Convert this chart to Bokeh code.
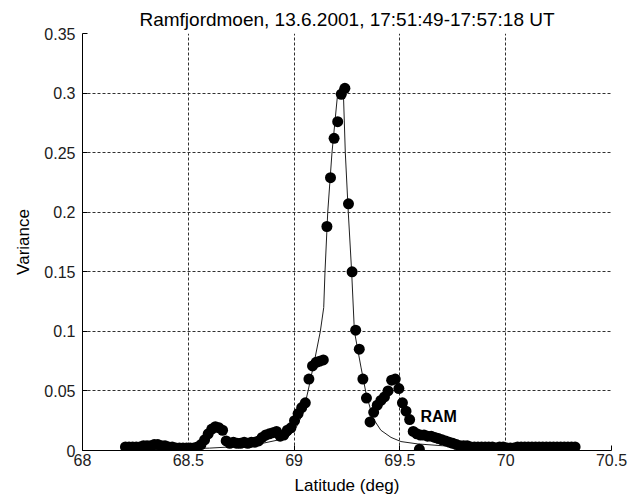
from bokeh.plotting import figure
from bokeh.models import FixedTicker, Label
from bokeh.embed import file_html
from bokeh.resources import INLINE

# ---- data ----
lat = [68.203, 68.220, 68.237, 68.254, 68.271, 68.288, 68.305, 68.322, 68.339, 68.356,
       68.373, 68.390, 68.407, 68.424, 68.441, 68.458, 68.475, 68.492, 68.509, 68.526,
       68.543, 68.560, 68.577, 68.594, 68.611, 68.628, 68.645, 68.662, 68.679, 68.696,
       68.713, 68.730, 68.747, 68.764, 68.781, 68.798, 68.815, 68.832, 68.849, 68.866,
       68.883, 68.900, 68.917, 68.934, 68.951, 68.968, 68.985, 69.002, 69.019, 69.036,
       69.053, 69.070, 69.087, 69.104, 69.121, 69.138, 69.155, 69.172, 69.189, 69.206,
       69.223, 69.240, 69.257, 69.274, 69.291, 69.308, 69.325, 69.342, 69.359, 69.376,
       69.393, 69.410, 69.427, 69.444, 69.461, 69.478, 69.495, 69.512, 69.529, 69.546,
       69.563, 69.580, 69.592, 69.597, 69.614, 69.631, 69.648, 69.665, 69.682, 69.699,
       69.716, 69.733, 69.750, 69.767, 69.784, 69.801, 69.818, 69.835, 69.852, 69.869,
       69.886, 69.903, 69.920, 69.937, 69.954, 69.971, 69.988, 70.005, 70.022, 70.039,
       70.056, 70.073, 70.090, 70.107, 70.124, 70.141, 70.158, 70.175, 70.192, 70.209,
       70.226, 70.243, 70.260, 70.277, 70.294, 70.311, 70.328]
variance = [0.003, 0.003, 0.003, 0.003, 0.003, 0.004, 0.004, 0.004, 0.005, 0.005,
            0.004, 0.004, 0.003, 0.003, 0.002, 0.002, 0.002, 0.002, 0.002, 0.002,
            0.003, 0.005, 0.009, 0.014, 0.018, 0.020, 0.019, 0.017, 0.008, 0.006,
            0.007, 0.006, 0.006, 0.007, 0.006, 0.007, 0.007, 0.008, 0.011, 0.013,
            0.014, 0.015, 0.016, 0.012, 0.013, 0.017, 0.019, 0.025, 0.031, 0.036,
            0.040, 0.060, 0.071, 0.074, 0.075, 0.076, 0.188, 0.229, 0.262, 0.276,
            0.299, 0.304, 0.207, 0.150, 0.101, 0.085, 0.060, 0.044, 0.024, 0.032,
            0.038, 0.042, 0.045, 0.050, 0.059, 0.060, 0.052, 0.040, 0.033, 0.026,
            0.016, 0.014, 0.001, 0.013, 0.013, 0.012, 0.012, 0.011, 0.010, 0.009,
            0.008, 0.007, 0.006, 0.005, 0.004, 0.004, 0.004, 0.003, 0.003, 0.003,
            0.003, 0.003, 0.003, 0.003, 0.002, 0.003, 0.003, 0.002, 0.002, 0.002,
            0.003, 0.003, 0.003, 0.003, 0.003, 0.003, 0.003, 0.003, 0.003, 0.003,
            0.003, 0.003, 0.003, 0.003, 0.003, 0.003, 0.003]

fit_lat = [68.19, 68.40, 68.60, 68.75, 68.85, 68.93, 68.976, 69.009, 69.041, 69.066,
           69.096, 69.124, 69.140, 69.146, 69.159, 69.179, 69.206, 69.222, 69.233, 69.242,
           69.256, 69.272, 69.285, 69.316, 69.340, 69.373, 69.410, 69.458, 69.505, 69.585,
           69.70, 69.85, 70.00, 70.33]
fit_var = [0.0008, 0.0012, 0.0020, 0.0035, 0.0060, 0.0090, 0.0120, 0.0190, 0.0310, 0.0500,
           0.0750, 0.1000, 0.1200, 0.1500, 0.2000, 0.2500, 0.3000, 0.3060, 0.3000, 0.2500,
           0.2000, 0.1500, 0.1000, 0.0700, 0.0480, 0.0270, 0.0170, 0.0110, 0.0075, 0.0055,
           0.0040, 0.0025, 0.0015, 0.0008]

x_ticks = [68, 68.5, 69, 69.5, 70, 70.5]
x_tick_labels = ["68", "68.5", "69", "69.5", "70", "70.5"]
y_ticks = [0, 0.05, 0.1, 0.15, 0.2, 0.25, 0.3, 0.35]
y_tick_labels = ["0", "0.05", "0.1", "0.15", "0.2", "0.25", "0.3", "0.35"]

station_label = "RAM"
station_pos = (69.597, 0.0285)
title_text = "Ramfjordmoen, 13.6.2001, 17:51:49-17:57:18 UT"

FONT = "Liberation Sans"

p = figure(width=634, height=498, x_range=(68, 70.5), y_range=(0, 0.35),
           output_backend="svg", toolbar_location=None,
           min_border_left=82, min_border_right=23, min_border_top=33, min_border_bottom=48)

p.title.text = title_text
p.title.align = "center"
p.title.text_font = FONT
p.title.text_font_size = "19px"
p.title.text_font_style = "normal"
p.title.text_color = "#000000"
p.title.standoff = 8

p.outline_line_color = None
p.background_fill_color = "white"
p.border_fill_color = "white"

for ax in (p.xaxis[0], p.yaxis[0]):
    ax.axis_line_color = "black"
    ax.axis_line_width = 1
    ax.major_tick_in = 5
    ax.major_tick_out = 0
    ax.minor_tick_line_color = None
    ax.major_tick_line_color = "black"
    ax.major_label_text_font = FONT
    ax.major_label_text_font_size = "16px"
    ax.major_label_text_color = "#202020"
    ax.axis_label_text_font = FONT
    ax.axis_label_text_font_size = "17px"
    ax.axis_label_text_font_style = "normal"
    ax.axis_label_text_color = "#000000"

p.xaxis.ticker = FixedTicker(ticks=x_ticks)
p.yaxis.ticker = FixedTicker(ticks=y_ticks)
p.xaxis.major_label_overrides = {t: s for t, s in zip(x_ticks, x_tick_labels)}
p.yaxis.major_label_overrides = {t: s for t, s in zip(y_ticks, y_tick_labels)}
p.xaxis.axis_label = "Latitude (deg)"
p.yaxis.axis_label = "Variance"
p.xaxis.major_label_standoff = 3
p.xaxis.axis_label_standoff = 7
p.yaxis.major_label_standoff = 7
p.yaxis.axis_label_standoff = 8

for g in (p.xgrid[0], p.ygrid[0]):
    g.grid_line_color = "#303030"
    g.grid_line_dash = "3 2"
    g.grid_line_width = 1

p.line(fit_lat, fit_var, line_color="#202020", line_width=1)
p.scatter(lat, variance, size=11, fill_color="black", line_color="black", line_width=0)

p.add_layout(Label(x=station_pos[0], y=station_pos[1], text=station_label,
                   text_font=FONT, text_font_size="16px", text_font_style="bold",
                   text_baseline="middle", text_align="left", text_color="black"))

open("out.html", "w").write(file_html(p, INLINE))
